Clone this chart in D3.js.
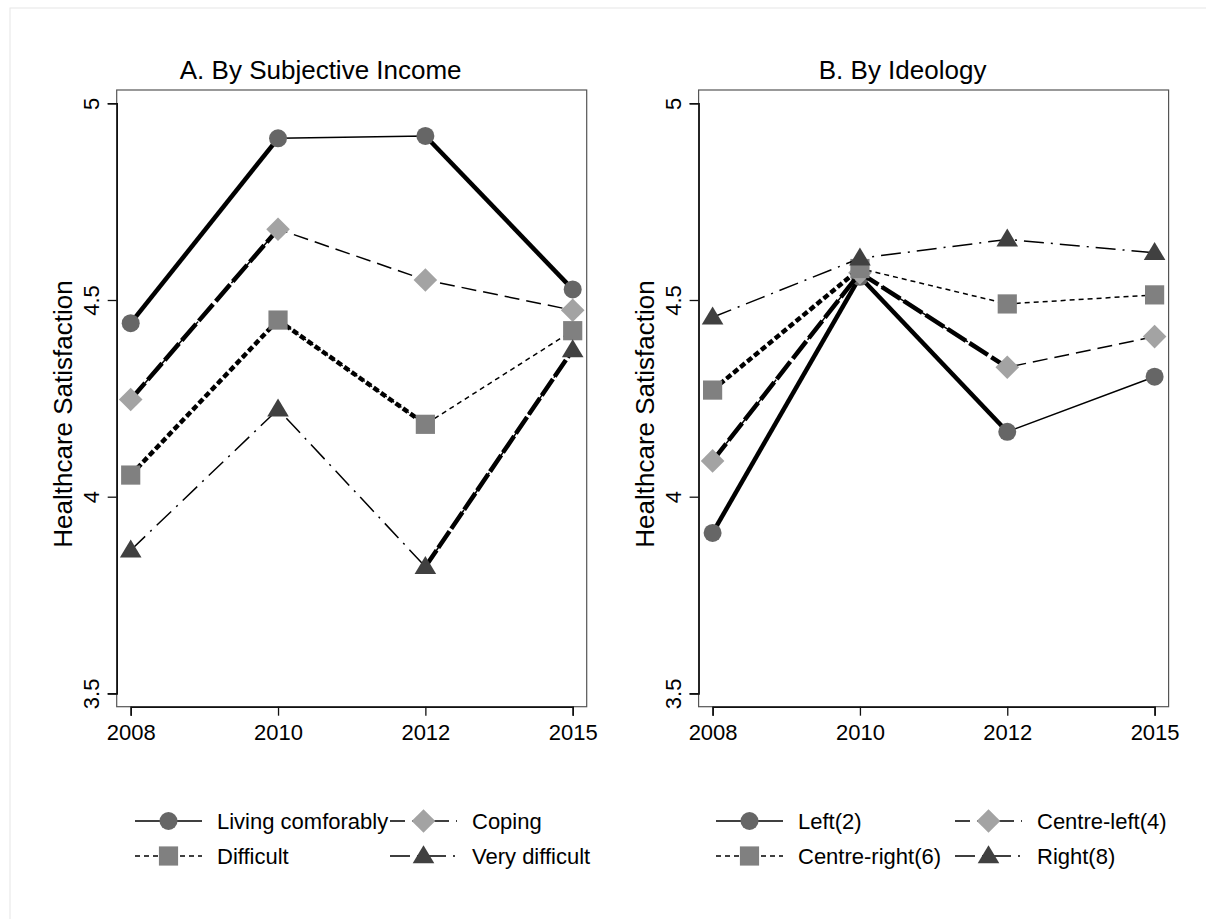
<!DOCTYPE html>
<html>
<head>
<meta charset="utf-8">
<script src="https://cdn.jsdelivr.net/npm/d3@7"></script>
<style>
  html, body { margin: 0; padding: 0; background: #fff; }
  svg { display: block; font-family: "Liberation Sans", Arial, Helvetica, sans-serif; }
</style>
</head>
<body>
<svg id="chart" width="1206" height="919"></svg>
<script>
// Survey years (categorical x axis)
const years = ["2008", "2010", "2012", "2015"];
const yTicks = [3.5, 4, 4.5, 5];

// Panel A: mean healthcare satisfaction by subjective income
const incomeGroups = ["Living comforably", "Coping", "Difficult", "Very difficult"];
const livingComfortably = [4.441, 4.911, 4.917, 4.527];
const coping = [4.247, 4.680, 4.551, 4.474];
const difficult = [4.055, 4.449, 4.184, 4.422];
const veryDifficult = [3.864, 4.222, 3.822, 4.373];

// Panel B: mean healthcare satisfaction by ideology
const ideologyGroups = ["Left(2)", "Centre-left(4)", "Centre-right(6)", "Right(8)"];
const left2 = [3.908, 4.559, 4.165, 4.305];
const centreLeft4 = [4.091, 4.569, 4.329, 4.407];
const centreRight6 = [4.271, 4.580, 4.490, 4.513];
const right8 = [4.456, 4.606, 4.654, 4.620];

// ---- styling ----
const seriesStyles = [
  { shape: "circle",   fill: "#666666", dash: null,         thickDash: null },
  { shape: "diamond",  fill: "#a3a3a3", dash: "15,7",       thickDash: "22,4" },
  { shape: "square",   fill: "#808080", dash: "5,4",        thickDash: "6,3" },
  { shape: "triangle", fill: "#404040", dash: "20,7,2,7",   thickDash: "20,3" }
];
// Segments that are drawn heavier (overdrawn) in each panel, by segment index
const heavySegmentsA = [[0, 2], [0], [0, 1], [2]];
const heavySegmentsB = [[0, 1], [0, 1], [0], []];

const panels = [
  { title: "A. By Subjective Income", names: incomeGroups,
    values: [livingComfortably, coping, difficult, veryDifficult],
    heavy: heavySegmentsA, left: 116.7, legendX: 135, legendCol2: 255 },
  { title: "B. By Ideology", names: ideologyGroups,
    values: [left2, centreLeft4, centreRight6, right8],
    heavy: heavySegmentsB, left: 698.6, legendX: 716, legendCol2: 239 }
];

const plotW = 470, plotTop = 90, plotBottom = 706.7, inset = 14, yInset = 13.3;
const font = "\"Liberation Sans\", Arial, Helvetica, sans-serif";

const svg = d3.select("#chart");
svg.append("rect").attr("width", 1206).attr("height", 919).attr("fill", "#fff");
svg.append("rect").attr("x", 10).attr("y", 8).attr("width", 1220).attr("height", 930)
  .attr("fill", "none").attr("stroke", "#e6e6e6").attr("stroke-width", 1);

function markerPath(shape) {
  const p = d3.path();
  if (shape === "circle") { p.arc(0, 0, 9, 0, 2 * Math.PI); }
  else if (shape === "diamond") { const r = 11.8; p.moveTo(0, -r); p.lineTo(r, 0); p.lineTo(0, r); p.lineTo(-r, 0); p.closePath(); }
  else if (shape === "square") { const s = 9.6; p.rect(-s, -s, 2 * s, 2 * s); }
  else { const w = 10.8, h = 18; p.moveTo(0, -h * 0.6); p.lineTo(w, h * 0.4); p.lineTo(-w, h * 0.4); p.closePath(); }
  return p.toString();
}

panels.forEach(panel => {
  const x0 = panel.left, x1 = panel.left + plotW;
  const x = d3.scalePoint().domain(years).range([x0 + inset, x1 - inset]);
  const y = d3.scaleLinear().domain([3.5, 5]).range([plotBottom - yInset, plotTop + yInset]);
  const g = svg.append("g");

  // plot region outline
  g.append("rect").attr("x", x0).attr("y", plotTop).attr("width", plotW).attr("height", plotBottom - plotTop)
    .attr("fill", "none").attr("stroke", "#555").attr("stroke-width", 1.2);

  // y axis
  const yAxis = d3.axisLeft(y).tickValues(yTicks).tickSize(9).tickPadding(0).tickFormat(d3.format("~g"));
  const ya = g.append("g").attr("transform", `translate(${x0},0)`).call(yAxis);
  ya.select(".domain").attr("stroke", "#111").attr("stroke-width", 1.6);
  ya.selectAll(".tick line").attr("stroke", "#111").attr("stroke-width", 1.3);
  ya.selectAll(".tick text")
    .attr("x", null).attr("dy", null).attr("text-anchor", "middle")
    .attr("transform", "translate(-18,0) rotate(-90)")
    .style("font-family", font).style("font-size", "22px").attr("fill", "#000");

  // x axis
  const xAxis = d3.axisBottom(x).tickSize(9).tickPadding(0);
  const xa = g.append("g").attr("transform", `translate(0,${plotBottom})`).call(xAxis);
  xa.select(".domain").attr("stroke", "#111").attr("stroke-width", 1.6);
  xa.selectAll(".tick line").attr("stroke", "#111").attr("stroke-width", 1.3);
  xa.selectAll(".tick text").attr("y", 33).attr("dy", null)
    .style("font-family", font).style("font-size", "22px").attr("fill", "#000");

  // titles: panel title is centred over the whole sub-graph, axis title along the y axis
  g.append("text").attr("x", (x0 + x1) / 2 - 31).attr("y", 79).attr("text-anchor", "middle")
    .style("font-family", font).style("font-size", "26px").text(panel.title);
  g.append("text").attr("transform", `translate(${x0 - 45},414) rotate(-90)`)
    .attr("text-anchor", "middle").style("font-family", font).style("font-size", "26px")
    .text("Healthcare Satisfaction");

  // series
  panel.values.forEach((vals, i) => {
    const st = seriesStyles[i];
    const pts = vals.map((v, j) => [x(years[j]), y(v)]);
    g.append("path").attr("d", d3.line()(pts)).attr("fill", "none")
      .attr("stroke", "#000").attr("stroke-width", 1.5)
      .attr("stroke-dasharray", st.dash);
    panel.heavy[i].forEach(k => {
      g.append("path").attr("d", d3.line()([pts[k], pts[k + 1]])).attr("fill", "none")
        .attr("stroke", "#000").attr("stroke-width", 4.5)
        .attr("stroke-dasharray", st.thickDash);
    });
    g.selectAll(null).data(pts).join("path")
      .attr("d", markerPath(st.shape))
      .attr("transform", d => `translate(${d[0]},${d[1]})`)
      .attr("fill", st.fill);
  });

  // legend: 2 columns x 2 rows
  const keyW = 67, rowY = [821, 856];
  const lg = g.append("g");
  const colX = [panel.legendX, panel.legendX + panel.legendCol2];
  panel.names.forEach((name, i) => {
    const st = seriesStyles[i];
    const cx = colX[i % 2], cy = rowY[Math.floor(i / 2)];
    lg.append("line").attr("x1", cx).attr("x2", cx + keyW).attr("y1", cy).attr("y2", cy)
      .attr("stroke", "#000").attr("stroke-width", 1.5).attr("stroke-dasharray", st.dash);
    lg.append("path").attr("d", markerPath(st.shape))
      .attr("transform", `translate(${cx + keyW / 2},${cy})`).attr("fill", st.fill);
    lg.append("text").attr("x", cx + keyW + 15).attr("y", cy).attr("dy", "0.35em")
      .style("font-family", font).style("font-size", "22px").text(name);
  });
});
</script>
</body>
</html>
